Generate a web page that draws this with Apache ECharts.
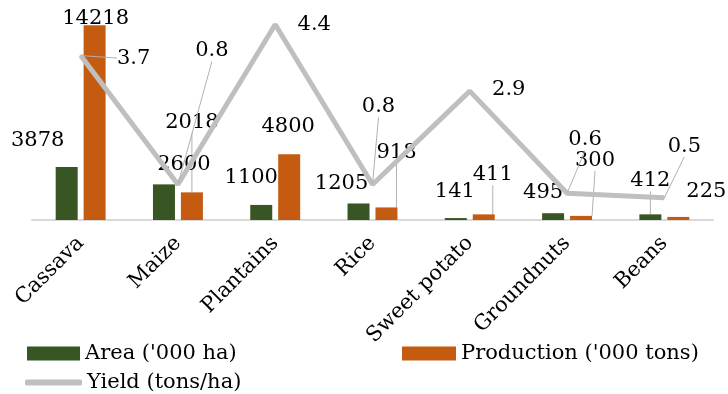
<!DOCTYPE html>
<html>
<head>
    <meta charset="utf-8">
    <title>Crops</title>
    <script src="https://cdn.jsdelivr.net/npm/echarts@6/dist/echarts.min.js"></script>
    <style>
        html, body { margin: 0; padding: 0; background: #fff; }
        #main { width: 728px; height: 394px; }
    </style>
</head>
<body>
    <div id="main"></div>
    <script type="text/javascript">
        var categories = ['Cassava', 'Maize', 'Plantains', 'Rice', 'Sweet potato', 'Groundnuts', 'Beans'];
        var areaValues = [3878, 2600, 1100, 1205, 141, 495, 412];
        var productionValues = [14218, 2018, 4800, 918, 411, 300, 225];
        var yieldValues = [3.7, 0.8, 4.4, 0.8, 2.9, 0.6, 0.5];

        // where each value label is moved from its default 'top' spot (px), and which get a leader line
        var areaShift = [[-29, -11], [20, -4], [-10, -12], [-17, -4], [-1, -11], [-10, -5], [0, -18]];
        var areaLeader = [false, false, false, false, false, false, true];
        var prodShift = [[1, 9], [0, -54], [-1, -12], [10, -39], [9, -24], [14, -40], [28, -10]];
        var prodLeader = [false, true, false, true, true, true, false];
        var yieldShift = [[53, 19], [34, -117], [39, 17], [6, -61], [39, 15], [18, -37], [20, -35]];
        var yieldLeader = [true, true, false, true, false, true, true];

        var font = 'DejaVu Serif';
        var fsize = 21;
        var shifts = [areaShift, prodShift, yieldShift];

        function withLeaders(values, leaders) {
            return values.map(function (v, i) {
                return { value: v, labelLine: { show: leaders[i] } };
            });
        }

        var myChart = echarts.init(document.getElementById('main'));

        var option = {
            animation: false,
            grid: { left: 32, right: 15, top: 20, bottom: 174, outerBoundsMode: 'none' },
            legend: [
                {
                    data: [{ name: "Area ('000 ha)", icon: 'rect' }],
                    left: 27, top: 343, padding: 0,
                    itemWidth: 53, itemHeight: 14,
                    textStyle: { fontFamily: font, fontSize: fsize, color: '#000' }
                },
                {
                    data: [{ name: "Production ('000 tons)", icon: 'rect' }],
                    left: 402, top: 343, padding: 0,
                    itemWidth: 54, itemHeight: 14,
                    textStyle: { fontFamily: font, fontSize: fsize, color: '#000' }
                },
                {
                    data: [{ name: 'Yield (tons/ha)', icon: 'roundRect' }],
                    left: 25, top: 372, padding: 0,
                    itemWidth: 57, itemHeight: 6,
                    textStyle: { fontFamily: font, fontSize: fsize, color: '#000' }
                }
            ],
            xAxis: {
                type: 'category',
                data: categories,
                axisLine: { lineStyle: { color: '#d9d9d9', width: 2 } },
                axisTick: { show: false },
                axisLabel: {
                    rotate: 45,
                    margin: 20,
                    interval: 0,
                    fontFamily: font,
                    fontSize: fsize,
                    color: '#000'
                }
            },
            yAxis: [
                { type: 'value', min: 0, max: 14600, show: false, splitLine: { show: false } },
                { type: 'value', min: 0, max: 4.5, show: false, splitLine: { show: false } }
            ],
            series: [
                {
                    name: "Area ('000 ha)",
                    type: 'bar',
                    data: withLeaders(areaValues, areaLeader),
                    barWidth: 22,
                    barGap: '27%',
                    itemStyle: { color: '#375623' }
                },
                {
                    name: "Production ('000 tons)",
                    type: 'bar',
                    data: withLeaders(productionValues, prodLeader),
                    barWidth: 22,
                    barGap: '27%',
                    itemStyle: { color: '#c55a11' }
                },
                {
                    name: 'Yield (tons/ha)',
                    type: 'line',
                    yAxisIndex: 1,
                    data: withLeaders(yieldValues, yieldLeader),
                    symbol: 'circle',
                    symbolSize: 2,
                    showSymbol: true,
                    itemStyle: { color: '#bfbfbf' },
                    lineStyle: { color: '#bfbfbf', width: 5 }
                }
            ]
        };

        option.series.forEach(function (s) {
            s.label = {
                show: true,
                position: 'top',
                fontFamily: font,
                fontSize: fsize,
                color: '#000'
            };
            s.labelLine = { show: false, lineStyle: { color: '#b0b0b0', width: 1 } };
        });

        option.labelLayout = function (p) {
            var d = shifts[p.seriesIndex][p.dataIndex];
            return { dx: d[0], dy: d[1] };
        };

        myChart.setOption(option);
    </script>
</body>
</html>
